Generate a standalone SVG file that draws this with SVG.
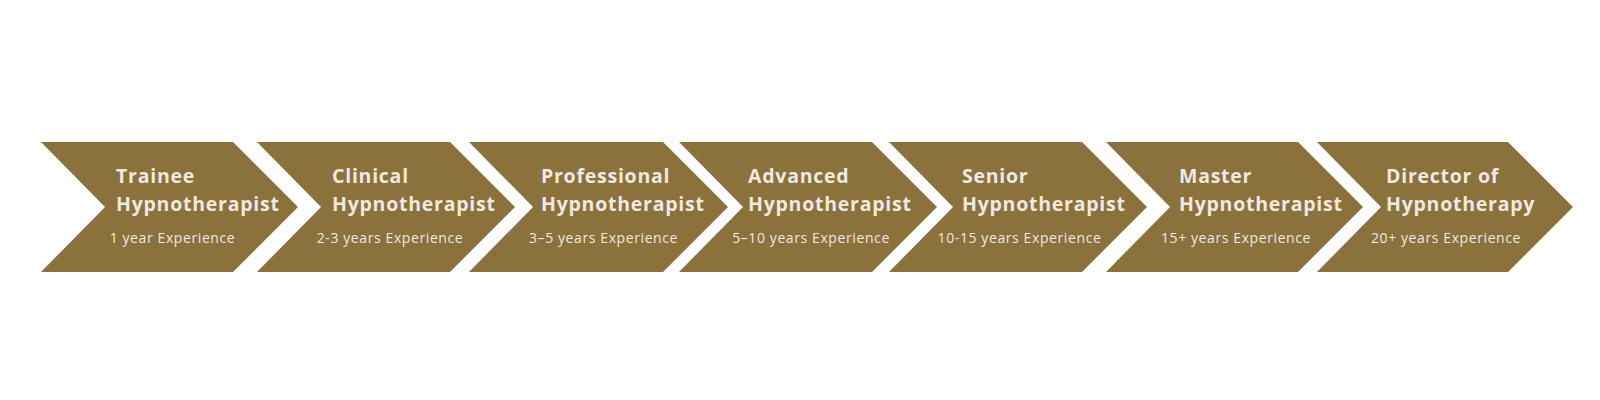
<svg xmlns="http://www.w3.org/2000/svg" width="1600" height="400" viewBox="0 0 1600 400">
<style>
.chev{fill:#8B713C;}
.t{font-family:"Open Sans","Liberation Sans",sans-serif;font-weight:700;font-size:19.5px;letter-spacing:0.75px;fill:#EFE9E1;}
.s{font-family:"Open Sans","Liberation Sans",sans-serif;font-weight:400;font-size:14px;letter-spacing:0.6px;fill:#EFE9E1;text-anchor:middle;}
</style>
<rect width="1600" height="400" fill="#ffffff"/>
<g id="connectors"/>
<g id="step1">
<polygon class="chev" points="41,142 233,142 298,207 233,272 41,272 105,207"/>
<text class="t" x="116" y="183">Trainee</text>
<text class="t" x="116" y="211">Hypnotherapist</text>
<text class="s" x="172.5" y="243">1 year Experience</text>
</g>
<g id="step2">
<polygon class="chev" points="257,142 450,142 515,207 450,272 257,272 321,207"/>
<text class="t" x="332" y="183">Clinical</text>
<text class="t" x="332" y="211">Hypnotherapist</text>
<text class="s" x="390" y="243">2-3 years Experience</text>
</g>
<g id="step3">
<polygon class="chev" points="469,142 663,142 728,207 663,272 469,272 533,207"/>
<text class="t" x="541" y="183">Professional</text>
<text class="t" x="541" y="211">Hypnotherapist</text>
<text class="s" x="603.5" y="243">3–5 years Experience</text>
</g>
<g id="step4">
<polygon class="chev" points="679,142 872,142 937,207 872,272 679,272 743,207"/>
<text class="t" x="748" y="183">Advanced</text>
<text class="t" x="748" y="211">Hypnotherapist</text>
<text class="s" x="811" y="243">5–10 years Experience</text>
</g>
<g id="step5">
<polygon class="chev" points="889,142 1082,142 1147,207 1082,272 889,272 953,207"/>
<text class="t" x="962" y="183">Senior</text>
<text class="t" x="962" y="211">Hypnotherapist</text>
<text class="s" x="1019.5" y="243">10-15 years Experience</text>
</g>
<g id="step6">
<polygon class="chev" points="1106,142 1298,142 1363,207 1298,272 1106,272 1170,207"/>
<text class="t" x="1179" y="183">Master</text>
<text class="t" x="1179" y="211">Hypnotherapist</text>
<text class="s" x="1236" y="243">15+ years Experience</text>
</g>
<g id="step7">
<polygon class="chev" points="1317,142 1508,142 1573,207 1508,272 1317,272 1381,207"/>
<text class="t" x="1386" y="183">Director of</text>
<text class="t" x="1386" y="211">Hypnotherapy</text>
<text class="s" x="1446" y="243">20+ years Experience</text>
</g>
</svg>
